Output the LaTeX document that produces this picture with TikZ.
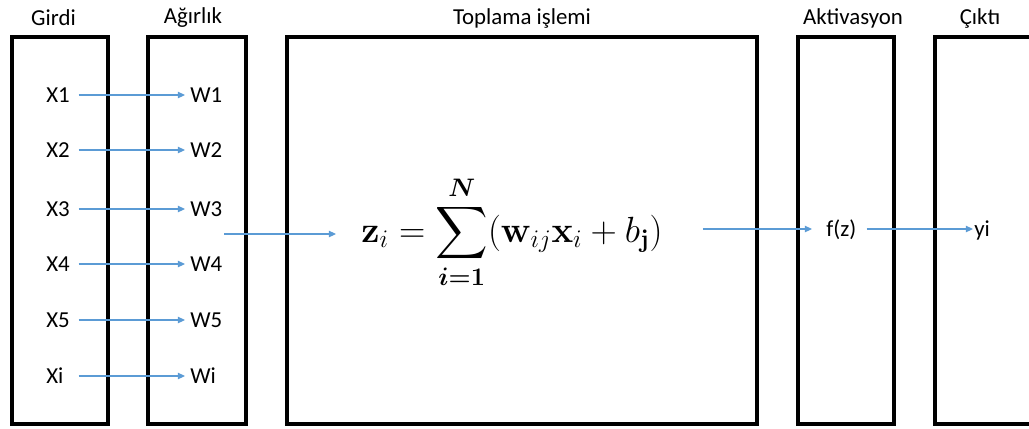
\documentclass[tikz,border=0pt]{standalone}
\usepackage{amsmath}
\usepackage{bm}
\usepackage[no-math]{fontspec}
\setmainfont{Carlito}
\usepackage{xcolor}
\usetikzlibrary{arrows.meta, positioning}

\definecolor{okmavi}{RGB}{91,155,213}

\begin{document}
\begin{tikzpicture}[
    katman/.style={draw=black, line width=2pt, minimum width=1.92cm, minimum height=7.74cm, inner sep=0pt},
    baslik/.style={font=\fontsize{13}{15}\selectfont, inner sep=0pt},
    etiket/.style={font=\fontsize{13}{15}\selectfont, inner sep=0pt, text height=8.4pt, text depth=0pt, anchor=west},
    girdi/.style={etiket, text width=0.64cm, align=left},
    ok/.style={-{Triangle[length=4pt, width=3.6pt]}, draw=okmavi, line width=0.6pt}
]
    \useasboundingbox (0,0) rectangle (20.58,-8.56);

    % ── Katman kutulari ──
    \node[katman] (girdiKutu) at (1.2,-4.61) {};
    \node[katman, minimum width=1.96cm] (agirlikKutu) at (3.94,-4.61) {};
    \node[katman, minimum width=9.4cm] (toplamKutu) at (10.44,-4.61) {};
    \node[katman] (aktKutu) at (16.92,-4.61) {};
    \node[katman] (ciktiKutu) at (19.66,-4.61) {};

    % ── Basliklar ──
    \node[baslik] (girdiBaslik) at (1.07,-0.36) {Girdi};
    \node[baslik] (agirlikBaslik) at (3.86,-0.36) {Ağırlık};
    \node[baslik] (toplamBaslik) at (10.44,-0.36) {Toplama işlemi};
    \node[baslik] (aktBaslik) at (17.06,-0.36) {Aktivasyon};
    \node[baslik] (ciktiBaslik) at (19.6,-0.36) {Çıktı};

    % ── Girdiler ──
    \node[girdi] (x1) at (0.92,-1.90) {X1};
    \node[girdi] (x2) at (0.92,-3.00) {X2};
    \node[girdi] (x3) at (0.92,-4.18) {X3};
    \node[girdi] (x4) at (0.92,-5.28) {X4};
    \node[girdi] (x5) at (0.92,-6.40) {X5};
    \node[girdi] (xi) at (0.92,-7.52) {Xi};

    % ── Agirliklar ──
    \node[etiket] (w1) at (3.8,-1.90) {W1};
    \node[etiket] (w2) at (3.8,-3.00) {W2};
    \node[etiket] (w3) at (3.8,-4.18) {W3};
    \node[etiket] (w4) at (3.8,-5.28) {W4};
    \node[etiket] (w5) at (3.8,-6.40) {W5};
    \node[etiket] (wi) at (3.8,-7.52) {Wi};

    % ── Toplama formulu ──
    \node[font=\fontsize{21}{25}\selectfont, inner sep=0pt] (formul) at (10.24,-4.65)
        {$\displaystyle \mathbf{z}_i = \sum_{\bm{i=1}}^{\bm{N}} (\mathbf{w}_{ij}\mathbf{x}_i + b_{\mathbf{j}})$};

    % ── Aktivasyon ve cikti ──
    \node[etiket] (fz) at (16.52,-4.58) {f(z)};
    \node[etiket] (yi) at (19.48,-4.58) {yi};

    % ── Oklar ──
    \draw[ok, shorten >=0.1cm] (x1.east) -- (w1.west);
    \draw[ok, shorten >=0.1cm] (x2.east) -- (w2.west);
    \draw[ok, shorten >=0.1cm] (x3.east) -- (w3.west);
    \draw[ok, shorten >=0.1cm] (x4.east) -- (w4.west);
    \draw[ok, shorten >=0.1cm] (x5.east) -- (w5.west);
    \draw[ok, shorten >=0.1cm] (xi.east) -- (wi.west);

    \coordinate (agirlikCikis) at (4.48,-4.68);
    \draw[ok, shorten >=0.5cm] (agirlikCikis) -- (agirlikCikis -| formul.west);
    \draw[ok, shorten <=0.8cm, shorten >=0.28cm] (formul.east |- fz.west) -- (fz.west);
    \draw[ok, shorten <=0.2cm, shorten >=0.02cm] (fz.east) -- (yi.west);

\end{tikzpicture}
\end{document}
